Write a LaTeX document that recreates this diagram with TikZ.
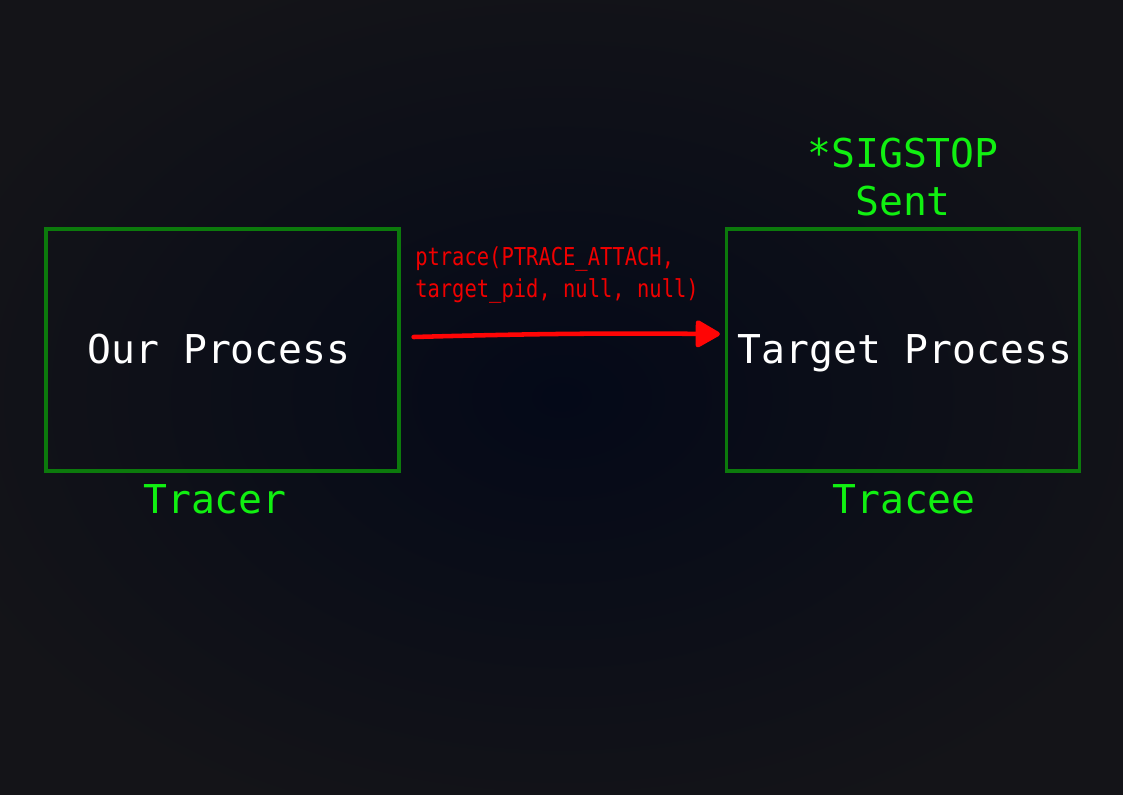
\documentclass[tikz,border=0pt]{standalone}
\usepackage{fontspec}
\setmonofont{DejaVu Sans Mono}
\newfontfamily\condmono[FakeStretch=0.83]{DejaVu Sans Mono}
\usetikzlibrary{arrows.meta}
\definecolor{bgedge}{HTML}{141418}
\definecolor{bgmid}{HTML}{040918}
\definecolor{boxgreen}{HTML}{0C7A0C}
\definecolor{txtgreen}{HTML}{11F011}
\definecolor{arrred}{HTML}{FF0505}
\definecolor{txtred}{HTML}{F00000}
\tikzset{
  procbox/.style={draw=boxgreen, line width=2.4pt, minimum width=264.75pt, minimum height=181.5pt, inner sep=0pt},
  bigtext/.style={font=\ttfamily\fontsize{29.8}{36}\selectfont, inner sep=0pt},
  whitetext/.style={bigtext, text=white},
  greentext/.style={bigtext, text=txtgreen},
  redtext/.style={font=\condmono\fontsize{18.5}{24}\selectfont, text=txtred, inner sep=0pt, align=left},
  callarrow/.style={draw=arrred, line width=3.4pt, line cap=round, -{Triangle[length=20pt,width=22pt,round]}}
}
\begin{document}
\begin{tikzpicture}[x=0.75pt,y=-0.75pt]
\useasboundingbox (0,0) rectangle (1123,794);
\fill[bgedge] (0,0) rectangle (1123,794);
\shade[inner color=bgmid, outer color=bgedge] (-100,-60) rectangle (1223,854);
\node[procbox] (lbox) at (222.5,350) {};
\node[procbox] (rbox) at (903,350) {};
\node[whitetext, anchor=base] (our) at (219,363) {Our Process};
\node[whitetext, anchor=base] (tgt) at (905,363) {Target Process};
\node[greentext, anchor=base] (tracer) at (215,513) {Tracer};
\node[greentext, anchor=base] (tracee) at (904,513) {Tracee};
\node[greentext, anchor=base, align=center] (sig) at (903,215) {*SIGSTOP\\Sent};
\node[redtext, anchor=base west] (call) at (415,297) {ptrace(PTRACE\_ATTACH,\\target\_pid, null, null)};
\draw[callarrow] ([shift={(13,-13)}]lbox.east) to[bend left=1] ([shift={(-5,-16)}]rbox.west);
\end{tikzpicture}
\end{document}
